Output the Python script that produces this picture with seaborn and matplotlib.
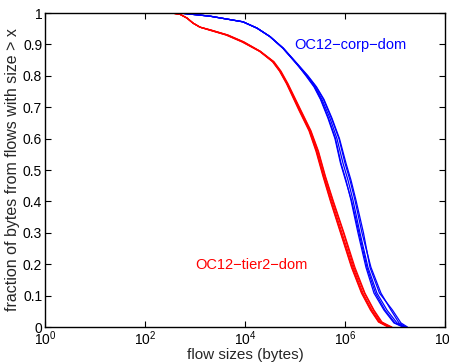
import numpy as np
import pandas as pd
import matplotlib
matplotlib.use("Agg")
import matplotlib.pyplot as plt
import seaborn as sns

# fraction of bytes levels, and log10(flow size) for each trace reaching that level
corp_frac = [1.0, 1.0, 0.99, 0.972, 0.952, 0.925, 0.888, 0.838, 0.80, 0.765, 0.725,
             0.665, 0.60, 0.522, 0.468, 0.404, 0.30, 0.19, 0.108, 0.054, 0.013, 0.0]
corp_log_size = [
    [0, 2.7, 3.3, 3.96, 4.24, 4.5, 4.76, 5.04, 5.24, 5.40, 5.54, 5.70, 5.84, 5.96, 6.06, 6.16, 6.30, 6.46, 6.64, 6.84, 7.04, 7.20],
    [0, 2.7, 3.3, 3.96, 4.24, 4.5, 4.76, 5.04, 5.25, 5.42, 5.57, 5.73, 5.88, 6.00, 6.10, 6.20, 6.34, 6.52, 6.72, 6.92, 7.08, 7.22],
    [0, 2.7, 3.3, 3.96, 4.24, 4.5, 4.76, 5.03, 5.23, 5.39, 5.52, 5.67, 5.81, 5.92, 6.02, 6.12, 6.26, 6.42, 6.58, 6.78, 6.98, 7.16],
    [0, 2.7, 3.3, 3.96, 4.24, 4.5, 4.77, 5.05, 5.26, 5.43, 5.58, 5.74, 5.89, 6.02, 6.12, 6.22, 6.37, 6.50, 6.69, 6.95, 7.12, 7.25],
    [0, 2.7, 3.3, 3.96, 4.24, 4.5, 4.76, 5.04, 5.22, 5.38, 5.51, 5.66, 5.80, 5.91, 6.01, 6.13, 6.28, 6.44, 6.61, 6.80, 7.00, 7.18],
]

tier2_frac = [1.0, 1.0, 0.996, 0.984, 0.968, 0.955, 0.946, 0.93, 0.908, 0.878, 0.845, 0.815,
              0.775, 0.69, 0.625, 0.56, 0.48, 0.40, 0.30, 0.19, 0.108, 0.054, 0.016, 0.0]
tier2_log_size = [
    [0, 2.54, 2.7, 2.84, 2.96, 3.1, 3.30, 3.64, 3.96, 4.30, 4.56, 4.70, 4.84, 5.10, 5.30, 5.44, 5.58, 5.74, 5.94, 6.16, 6.36, 6.54, 6.70, 6.90],
    [0, 2.54, 2.7, 2.84, 2.96, 3.1, 3.32, 3.66, 3.98, 4.31, 4.58, 4.72, 4.86, 5.12, 5.32, 5.47, 5.61, 5.77, 5.98, 6.20, 6.40, 6.58, 6.74, 6.92],
    [0, 2.54, 2.7, 2.84, 2.96, 3.1, 3.28, 3.62, 3.94, 4.29, 4.55, 4.69, 4.83, 5.08, 5.28, 5.42, 5.56, 5.71, 5.91, 6.13, 6.33, 6.51, 6.67, 6.86],
    [0, 2.54, 2.7, 2.84, 2.96, 3.1, 3.31, 3.65, 3.97, 4.30, 4.57, 4.71, 4.85, 5.11, 5.31, 5.46, 5.60, 5.76, 5.97, 6.18, 6.39, 6.57, 6.72, 6.94],
    [0, 2.54, 2.7, 2.84, 2.96, 3.1, 3.29, 3.63, 3.95, 4.30, 4.56, 4.70, 4.84, 5.09, 5.29, 5.43, 5.57, 5.72, 5.92, 6.14, 6.34, 6.52, 6.68, 6.88],
]

xtick_exp = [0, 2, 4, 6, 8]
ytick_vals = [0, 0.1, 0.2, 0.3, 0.4, 0.5, 0.6, 0.7, 0.8, 0.9, 1]
ytick_labels = ["0", "0.1", "0.2", "0.3", "0.4", "0.5", "0.6", "0.7", "0.8", "0.9", "1"]

sns.set_style("ticks", {"xtick.direction": "in", "ytick.direction": "in"})
plt.rcParams["font.family"] = ["Liberation Sans", "DejaVu Sans"]
plt.rcParams["mathtext.fontset"] = "custom"
plt.rcParams["mathtext.rm"] = "Liberation Sans"
plt.rcParams["mathtext.it"] = "Liberation Sans"
plt.rcParams["mathtext.default"] = "regular"

rows = []
for i, tr in enumerate(corp_log_size):
    for lx, f in zip(tr, corp_frac):
        rows.append(("corp", i, 10 ** lx, f))
for i, tr in enumerate(tier2_log_size):
    for lx, f in zip(tr, tier2_frac):
        rows.append(("tier2", i, 10 ** lx, f))
df = pd.DataFrame(rows, columns=["trace", "run", "size", "frac"])

fig = plt.figure(figsize=(4.49, 3.64), dpi=100)
ax = fig.add_axes([0.1002, 0.1016, 0.8908, 0.8626])

sns.lineplot(data=df, x="size", y="frac", hue="trace", units="run", estimator=None,
             sort=False, palette={"corp": "#0000ff", "tier2": "#ff0000"},
             linewidth=0.9, legend=False, ax=ax)

ax.set_xscale("log")
ax.set_xlim(1, 1e8)
ax.set_ylim(0, 1)
ax.set_xticks([10.0 ** e for e in xtick_exp])
ax.set_xticklabels([r"$10^{%d}$" % e for e in xtick_exp])
ax.xaxis.set_minor_locator(matplotlib.ticker.NullLocator())
ax.set_yticks(ytick_vals)
ax.set_yticklabels(ytick_labels)
ax.tick_params(axis="both", which="both", top=True, right=True, labelsize=10,
               length=4, width=0.8, pad=2, colors="black")
for s in ax.spines.values():
    s.set_linewidth(1.0)
    s.set_color("black")

ax.set_xlabel("flow sizes (bytes)", fontsize=11, labelpad=0)
ax.set_ylabel("fraction of bytes from flows with size > x", fontsize=11.5, labelpad=2)

ax.text(10 ** 4.98, 0.898, "OC12\u2212corp\u2212dom", color="#0000ff", fontsize=10.5,
        va="center", ha="left")
ax.text(10 ** 3.0, 0.197, "OC12\u2212tier2\u2212dom", color="#ff0000", fontsize=10.5,
        va="center", ha="left")

fig.savefig("out.png", dpi=100)
